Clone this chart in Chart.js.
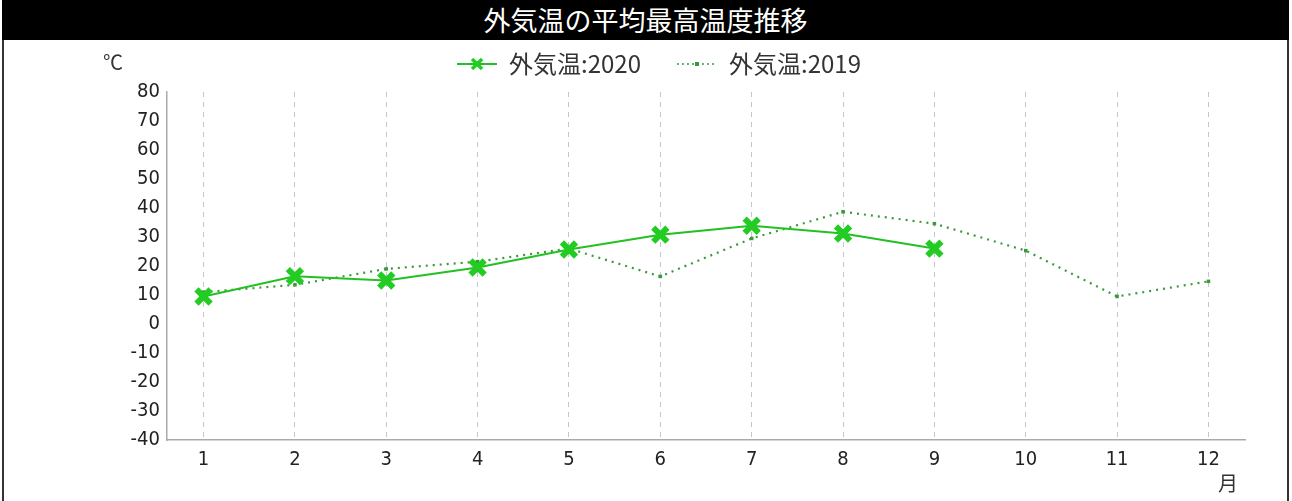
<!DOCTYPE html>
<html lang="ja">
<head>
  <meta charset="UTF-8">
  <title>外気温の平均最高温度推移</title>
  <script src="https://cdn.jsdelivr.net/npm/chart.js"></script>
  <style>
    body {
      margin: 0;
      width: 1292px;
      height: 501px;
      overflow: hidden;
      background: #fff;
      font-family: 'Noto Sans CJK JP', sans-serif;
    }
    .frame {
      position: absolute;
      left: 2px;
      top: 0;
      width: 1283px;
      height: 501px;
      border-left: 2px solid #333;
      border-right: 2px solid #333;
      border-top: 1px solid #888;
    }
    .title-bar {
      position: absolute;
      left: 2px;
      top: 0;
      width: 1287px;
      height: 40px;
      background: #000;
      color: #fff;
      font-size: 27px;
      line-height: 40px;
      text-align: center;
    }
    .chart-box {
      position: absolute;
      left: 0;
      top: 40px;
      width: 1292px;
      height: 461px;
    }
  </style>
</head>
<body>
  <div class="chart-box"><canvas id="tempChart"></canvas></div>
  <div class="frame"></div>
  <div class="title-bar">外気温の平均最高温度推移</div>

  <script>
    const months = [1, 2, 3, 4, 5, 6, 7, 8, 9, 10, 11, 12];
    const temp2020 = [9.5, 16.5, 15, 19.5, 25.7, 30.8, 33.9, 31.2, 26];
    const temp2019 = [11, 13.5, 19, 21.5, 26, 16.4, 29.5, 38.7, 34.6, 25.3, 9.5, 14.7];
    const yTicks = [-40, -30, -20, -10, 0, 10, 20, 30, 40, 50, 60, 70, 80];

    const green2020 = '#22c022';
    const green2019 = '#3a9a3a';
    const tickFont = { family: "'DejaVu Sans Condensed', sans-serif", size: 20 };

    // legend symbols: short line with the marker in the middle
    function legendSymbol(color, dash, width, marker) {
      const c = document.createElement('canvas');
      c.width = 66; c.height = 20;
      const g = c.getContext('2d');
      g.strokeStyle = color;
      g.lineWidth = width;
      g.setLineDash(dash);
      g.beginPath(); g.moveTo(26, 10); g.lineTo(66, 10); g.stroke();
      g.setLineDash([]);
      marker(g);
      return c;
    }
    const sym2020 = legendSymbol(green2020, [], 2, g => {
      g.strokeStyle = '#22cc22'; g.lineWidth = 3.5;
      g.beginPath(); g.moveTo(41, 5); g.lineTo(51, 15); g.moveTo(51, 5); g.lineTo(41, 15); g.stroke();
    });
    const sym2019 = legendSymbol(green2019, [2, 3], 1.5, g => {
      g.fillStyle = green2019;
      g.fillRect(44, 8, 4, 4);
    });

    const ctx = document.getElementById('tempChart').getContext('2d');
    new Chart(ctx, {
      type: 'line',
      data: {
        datasets: [{
          label: '外気温:2020',
          data: temp2020.map((v, i) => ({ x: months[i], y: v })),
          borderColor: green2020,
          borderWidth: 2,
          pointStyle: 'crossRot',
          pointRadius: 10,
          pointBorderWidth: 6,
          pointBorderColor: '#22cc22',
          pointBackgroundColor: '#22cc22',
          tension: 0,
          order: 1
        }, {
          label: '外気温:2019',
          data: temp2019.map((v, i) => ({ x: months[i], y: v })),
          borderColor: green2019,
          borderWidth: 2.2,
          borderDash: [2, 5],
          pointStyle: 'rect',
          pointRadius: 2.5,
          pointBorderWidth: 0,
          pointBackgroundColor: green2019,
          tension: 0,
          order: 2
        }]
      },
      options: {
        responsive: true,
        maintainAspectRatio: false,
        animation: false,
        layout: { padding: { left: 47, right: 47, top: 2, bottom: 0 } },
        scales: {
          x: {
            type: 'linear',
            min: 0.6,
            max: 12.4,
            afterBuildTicks: scale => { scale.ticks = months.map(m => ({ value: m })); },
            afterFit: scale => { scale.height = 61; },
            ticks: { font: tickFont, color: '#222', padding: 8, callback: v => v },
            grid: { color: '#c9c2d2', drawTicks: false },
            border: { color: '#aaaaaa', width: 1.5, dash: [5, 5] }
          },
          y: {
            min: -40,
            max: 80,
            afterBuildTicks: scale => { scale.ticks = yTicks.map(v => ({ value: v })); },
            afterFit: scale => { scale.width = 120; },
            ticks: { font: tickFont, color: '#222', padding: 7 },
            grid: { display: false, drawTicks: false },
            border: { color: '#aaaaaa', width: 1.5 }
          }
        },
        plugins: {
          legend: {
            labels: {
              usePointStyle: true,
              pointStyleWidth: 66,
              padding: 10,
              color: '#333',
              font: { family: "'Noto Sans CJK JP', sans-serif", size: 24 },
              generateLabels: chart => chart.data.datasets.map((ds, i) => ({
                text: ds.label,
                pointStyle: i === 0 ? sym2020 : sym2019,
                datasetIndex: i,
                fontColor: '#333',
                lineWidth: 0,
                strokeStyle: 'transparent',
                fillStyle: 'transparent'
              }))
            }
          },
          tooltip: { enabled: false }
        }
      },
      plugins: [{
        id: 'legendHeight',
        beforeInit(chart) {
          const fit = chart.legend.fit;
          chart.legend.fit = function () { fit.call(this); this.height = 50; };
        }
      }, {
        id: 'unitLabels',
        afterDraw(chart) {
          const c = chart.ctx;
          c.save();
          c.fillStyle = '#333';
          c.font = "20px 'Noto Sans CJK JP', sans-serif";
          c.textBaseline = 'middle';
          c.textAlign = 'left';
          c.fillText('℃', 103, 22);
          c.fillText('月', 1218, 443);
          c.restore();
        }
      }]
    });
  </script>
</body>
</html>
